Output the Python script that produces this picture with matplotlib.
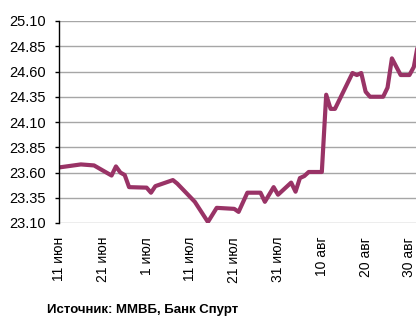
import numpy as np
import pandas as pd
import matplotlib
matplotlib.use("Agg")
import matplotlib.pyplot as plt
import matplotlib.dates as mdates

plt.rcParams['font.family'] = ['Liberation Sans', 'DejaVu Sans']

# курс
dates = ["2010-06-11", "2010-06-16", "2010-06-19", "2010-06-23", "2010-06-24",
         "2010-06-25", "2010-06-26", "2010-06-27", "2010-07-01", "2010-07-02",
         "2010-07-03", "2010-07-07", "2010-07-08", "2010-07-09", "2010-07-12",
         "2010-07-15", "2010-07-17", "2010-07-21", "2010-07-22", "2010-07-24",
         "2010-07-27", "2010-07-28", "2010-07-30", "2010-07-31", "2010-08-03",
         "2010-08-04", "2010-08-05", "2010-08-06", "2010-08-07", "2010-08-10",
         "2010-08-11", "2010-08-12", "2010-08-13", "2010-08-17", "2010-08-18",
         "2010-08-19", "2010-08-20", "2010-08-21", "2010-08-24", "2010-08-25",
         "2010-08-26", "2010-08-28", "2010-08-30", "2010-08-31", "2010-09-01"]
values = [23.65, 23.68, 23.67, 23.57, 23.66,
          23.60, 23.575, 23.455, 23.45, 23.40,
          23.465, 23.525, 23.49, 23.445, 23.31,
          23.11, 23.25, 23.24, 23.21, 23.40,
          23.40, 23.31, 23.455, 23.38, 23.50,
          23.41, 23.545, 23.565, 23.605, 23.605,
          24.37, 24.23, 24.23, 24.585, 24.565,
          24.585, 24.40, 24.35, 24.35, 24.44,
          24.73, 24.565, 24.565, 24.645, 24.88]
tick_dates = ["2010-06-11", "2010-06-21", "2010-07-01", "2010-07-11", "2010-07-21",
              "2010-07-31", "2010-08-10", "2010-08-20", "2010-08-30"]
tick_labels = ["11 июн", "21 июн", "1 июл", "11 июл", "21 июл",
               "31 июл", "10 авг", "20 авг", "30 авг"]
yticks = [23.10, 23.35, 23.60, 23.85, 24.10, 24.35, 24.60, 24.85, 25.10]

x = pd.to_datetime(dates)

fig = plt.figure(figsize=(4.16, 3.18), dpi=100)
ax = fig.add_axes([59/416, 1 - 223/318, 1 - 59/416, (223 - 21)/318])

ax.plot(x, values, color="#993366", lw=3, solid_joinstyle="round", clip_on=True)

ax.set_ylim(23.10, 25.10)
ax.set_yticks(yticks)
ax.set_yticklabels(["%.2f" % v for v in yticks], fontsize=10.5)
ax.grid(axis="y", color="#a6a6a6", lw=1)
ax.set_axisbelow(True)

start = pd.Timestamp("2010-06-11")
ax.set_xlim(start, start + pd.Timedelta(days=81.5))
ax.set_xticks(pd.to_datetime(tick_dates))
ax.set_xticklabels(tick_labels, rotation=90, fontsize=10, va="top")
ax.tick_params(axis="x", length=0, pad=10)
ax.tick_params(axis="y", length=3, width=1, pad=6.5, colors="black")

for s in ["top", "right", "bottom"]:
    ax.spines[s].set_visible(False)
ax.spines["left"].set_linewidth(1)

fig.text(47/416, 1 - 310/318, "Источник: ММВБ, Банк Спурт", fontsize=9.5,
         fontweight="bold", va="center", ha="left")

fig.savefig("out.png", dpi=100)
